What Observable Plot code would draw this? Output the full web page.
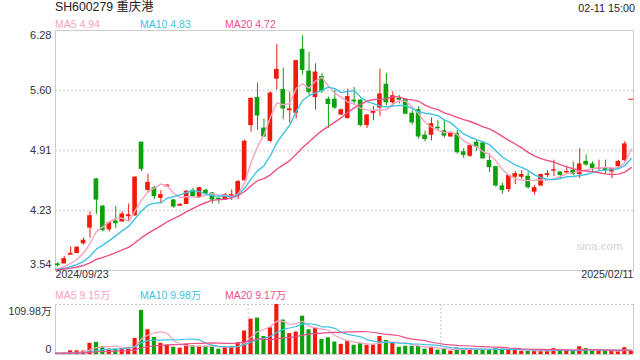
<!DOCTYPE html>
<html><head><meta charset="utf-8">
<script src="https://cdn.jsdelivr.net/npm/d3@7"></script>
<script src="https://cdn.jsdelivr.net/npm/@observablehq/plot@0.6"></script>
<style>
html,body{margin:0;padding:0;background:#fff;}
#wrap{position:relative;width:640px;height:360px;overflow:hidden;font-family:"Liberation Sans",Arial,"Noto Sans CJK SC",sans-serif;}
.lbl{position:absolute;white-space:nowrap;line-height:14px;height:14px;}
#main,#vol{position:absolute;left:0;}
#main{top:0;} #vol{top:290px;}
</style></head>
<body><div id="wrap"><div id="main"></div><div id="vol"></div></div>
<script>
// ---- data ----
const title = "SH600279 重庆港";
const timeStamp = "02-11 15:00";
const maNames = ["MA5", "MA10", "MA20"];
const priceMAValues = ["4.94", "4.83", "4.72"];
const volMAValues = ["9.15万", "9.98万", "9.17万"];
const dateLabels = ["2024/09/23", "2025/02/11"];
const yTickValues = [3.54, 4.225, 4.91, 5.595, 6.28];
const yTickLabels = ["3.54", "4.23", "4.91", "5.60", "6.28"];
const volTickLabels = ["0", "109.98万"];
const volMax = 109.98;
const watermark = "sina.com";

const opens = [3.61,3.62,3.72,3.74,3.85,4.03,4.58,4.27,4.01,4.10,
  4.10,4.16,4.17,5.00,4.46,4.48,4.37,4.50,4.34,4.28,
  4.30,4.45,4.38,4.45,4.42,4.36,4.35,4.38,4.40,4.57,
  5.20,5.51,5.16,5.02,5.73,5.60,5.37,5.34,6.06,5.81,
  5.52,5.75,5.49,5.49,5.32,5.28,5.48,5.48,5.20,5.34,
  5.40,5.66,5.46,5.50,5.49,5.33,5.37,5.08,5.09,5.17,
  5.13,5.07,5.10,4.89,4.85,5.00,4.99,4.79,4.72,4.50,
  4.47,4.61,4.61,4.61,4.44,4.51,4.63,4.68,4.66,4.66,
  4.68,4.64,4.78,4.75,4.70,4.71,4.67,4.73,4.80,5.49];
const highs = [3.63,3.70,3.81,3.81,3.91,4.21,4.59,4.28,4.10,4.27,
  4.21,4.30,4.61,5.00,4.64,4.50,4.45,4.52,4.35,4.30,
  4.45,4.48,4.49,4.47,4.43,4.37,4.42,4.46,4.57,5.03,
  5.51,5.68,5.27,5.58,6.12,5.85,5.58,5.94,6.22,6.03,
  5.90,5.79,5.52,5.60,5.38,5.61,5.63,5.49,5.32,5.41,
  5.84,5.79,5.58,5.54,5.50,5.37,5.41,5.13,5.28,5.25,
  5.25,5.12,5.14,4.93,4.98,5.03,5.01,4.87,4.73,4.54,
  4.62,4.67,4.68,4.66,4.51,4.64,4.68,4.80,4.66,4.73,
  4.78,4.93,4.86,4.78,4.80,4.80,4.71,4.80,5.01,5.49];
const lows = [3.58,3.62,3.72,3.73,3.83,3.91,4.18,3.98,3.98,4.02,
  4.09,4.09,4.16,4.67,4.42,4.35,4.30,4.49,4.25,4.27,
  4.29,4.38,4.37,4.41,4.30,4.30,4.34,4.34,4.35,4.56,
  5.12,5.14,5.06,5.00,5.60,5.26,5.22,5.27,5.77,5.54,
  5.37,5.56,5.16,5.38,5.31,5.27,5.43,5.18,5.16,5.25,
  5.30,5.42,5.41,5.44,5.32,5.20,5.04,5.01,5.02,5.13,
  5.05,5.06,4.87,4.82,4.83,4.90,4.81,4.66,4.49,4.41,
  4.43,4.52,4.58,4.47,4.40,4.50,4.60,4.61,4.59,4.64,
  4.62,4.59,4.73,4.67,4.68,4.64,4.59,4.72,4.78,5.49];
const closes = [3.60,3.67,3.73,3.80,3.88,4.16,4.35,4.00,4.08,4.08,
  4.18,4.17,4.60,4.70,4.54,4.39,4.40,4.51,4.27,4.29,
  4.44,4.39,4.48,4.42,4.35,4.355,4.40,4.40,4.55,5.01,
  5.50,5.31,5.07,5.56,5.83,5.39,5.38,5.93,5.83,5.58,
  5.80,5.59,5.44,5.40,5.37,5.52,5.47,5.20,5.31,5.35,
  5.55,5.46,5.53,5.49,5.33,5.23,5.07,5.04,5.21,5.165,
  5.08,5.11,4.89,4.86,4.96,4.95,4.82,4.72,4.51,4.46,
  4.62,4.64,4.63,4.49,4.48,4.63,4.64,4.685,4.63,4.665,
  4.64,4.75,4.75,4.71,4.705,4.68,4.70,4.78,4.98,5.49];
// volume, 万
const volumes = [2,3,8.1,8.1,7.5,24.6,26.7,16.7,11.7,11.7,
  13.2,14.5,35.2,97.1,54.4,37.4,24.6,20.3,16,13.9,
  22.4,18.8,18.1,18.1,16.7,11.7,16,17.5,26,51.7,
  77.9,80.1,39.5,58.7,109.98,75.8,45.9,49.5,84.3,54.4,
  58.1,33.1,36.7,27.3,22.4,29.5,20.3,24.6,20.3,20.3,
  39.5,31,24.6,16,18.1,18.1,18.1,11.7,16,9.6,
  11.7,7.5,13.9,11.7,11.7,11.1,11.1,11.1,13.2,11.7,
  11,9.6,7,7,8.5,8.5,8.5,13,7.6,7.6,
  7.6,17,13,7.6,7.6,7.6,7.6,7.6,15,7.6];
// estimated closes / volumes of the sessions before the window (seed the moving averages only)
const priorCloses = [3.50,3.52,3.55,3.53,3.56,3.54,3.57,3.55,3.53,3.56,3.58,3.55,3.54,3.56,3.55,3.53,3.55,3.56,3.54];
const priorVolumes = [3,2,3,4,3,2,3,3,2,4,3,3,2,3,3,4,3,2,3];

// ---- styles ----
const red = "#f21a0a", green = "#0aa10a";
const maColors = ["#f7a3c4", "#3ec3e6", "#ef4f8a"];
const maK = [5, 10, 20];
const font = "'Liberation Sans', Arial, 'Noto Sans CJK SC', sans-serif";

const candles = closes.map((c, i) => ({i, open: opens[i], high: highs[i], low: lows[i], close: c, vol: volumes[i], col: c >= opens[i] ? red : green}));
const closeSeries = priorCloses.map((v, k) => ({i: k - priorCloses.length, v})).concat(candles.map(d => ({i: d.i, v: d.close})));
const volSeries = priorVolumes.map((v, k) => ({i: k - priorVolumes.length, v})).concat(candles.map(d => ({i: d.i, v: d.vol})));
const xDomain = [-0.35, closes.length - 0.65];
const half = 0.36, vhalf = 0.32;

const main = Plot.plot({
  width: 640, height: 290, marginTop: 30, marginRight: 7, marginBottom: 20, marginLeft: 55,
  style: {fontFamily: font, background: "transparent"},
  x: {type: "linear", domain: xDomain, axis: null},
  y: {type: "linear", domain: [yTickValues[0], yTickValues[yTickValues.length - 1]], axis: null},
  color: {type: "identity"},
  marks: [
    Plot.ruleY(yTickValues.slice(1, -1), {stroke: "#dedede", strokeWidth: 2, strokeDasharray: "2,2"}),
    Plot.frame({stroke: "#cccccc"}),
    Plot.text([watermark], {frameAnchor: "bottom-right", textAnchor: "end", dx: -11, dy: -21, fill: "#d2d2d2", fontSize: 11.5}),
    Plot.ruleX(candles, {x: "i", y1: "low", y2: "high", stroke: "col", strokeWidth: 1}),
    Plot.rect(candles, {x1: d => d.i - half, x2: d => d.i + half, y1: "open", y2: "close", fill: "col", insetTop: -0.5, insetBottom: -0.5}),
    ...maK.map((k, j) => Plot.lineY(closeSeries, Plot.windowY({k, anchor: "end"}, {x: "i", y: "v", stroke: maColors[j], strokeWidth: 1.4, clip: true}))),
    Plot.text(yTickValues.slice(1, -1), {y: d => d, text: d => yTickLabels[yTickValues.indexOf(d)], frameAnchor: "left", textAnchor: "end", dx: -4, fill: "#333", fontSize: 11}),
    Plot.text([yTickValues[yTickValues.length - 1]], {y: d => d, text: d => yTickLabels[yTickValues.indexOf(d)], frameAnchor: "left", textAnchor: "end", dx: -4, dy: 5, fill: "#333", fontSize: 11}),
    Plot.text([yTickValues[0]], {y: d => d, text: d => yTickLabels[yTickValues.indexOf(d)], frameAnchor: "left", textAnchor: "end", dx: -4, dy: -6, fill: "#333", fontSize: 11}),
    Plot.text([dateLabels[0]], {frameAnchor: "bottom-left", textAnchor: "start", dy: 7.5, fill: "#333", fontSize: 10.6}),
    Plot.text([dateLabels[1]], {frameAnchor: "bottom-right", textAnchor: "end", dy: 7.5, fill: "#333", fontSize: 10.6})
  ]
});
document.getElementById("main").append(main);

const thirds = [1, 2].map(k => xDomain[0] + (xDomain[1] - xDomain[0]) * k / 3);
const vol = Plot.plot({
  width: 640, height: 70, marginTop: 14, marginRight: 7, marginBottom: 6, marginLeft: 55,
  style: {fontFamily: font, background: "transparent"},
  x: {type: "linear", domain: xDomain, axis: null},
  y: {type: "linear", domain: [0, volMax], axis: null},
  color: {type: "identity"},
  marks: [
    Plot.ruleX(thirds, {stroke: "#c8c8c8", strokeDasharray: "2,2"}),
    Plot.ruleY([volMax], {stroke: "#c8c8c8", strokeDasharray: "2,2"}),
    Plot.ruleY([0], {stroke: "#cccccc"}),
    Plot.ruleX(xDomain, {stroke: "#cccccc"}),
    Plot.rect(candles, {x1: d => d.i - vhalf, x2: d => d.i + vhalf, y1: 0, y2: "vol", fill: "col"}),
    ...maK.map((k, j) => Plot.lineY(volSeries, Plot.windowY({k, anchor: "end"}, {x: "i", y: "v", stroke: maColors[j], strokeWidth: 1.2, clip: true}))),
    Plot.text([volMax], {y: d => d, text: () => volTickLabels[1], frameAnchor: "left", textAnchor: "end", dx: -4, dy: 7.5, fill: "#333", fontSize: 10.6}),
    Plot.text([0], {y: d => d, text: () => volTickLabels[0], frameAnchor: "left", textAnchor: "end", dx: -4, dy: -5, fill: "#333", fontSize: 10.6})
  ]
});
document.getElementById("vol").append(vol);

// ---- header texts and legends ----
const wrap = document.getElementById("wrap");
function label(text, css) {
  const d = document.createElement("div");
  d.className = "lbl";
  d.textContent = text;
  Object.assign(d.style, css);
  wrap.append(d);
}
label(title, {left: "55px", top: "0px", fontSize: "12.3px", color: "#222"});
label(timeStamp, {right: "5px", top: "1px", fontSize: "10.8px", color: "#222"});
const legendX = [55, 140, 225];
maNames.forEach((n, j) => {
  label(n + " " + priceMAValues[j], {left: legendX[j] + "px", top: "17px", fontSize: "10.5px", color: maColors[j]});
  label(n + " " + volMAValues[j], {left: legendX[j] + "px", top: "288px", fontSize: "10.5px", color: maColors[j]});
});
</script>
</body></html>
